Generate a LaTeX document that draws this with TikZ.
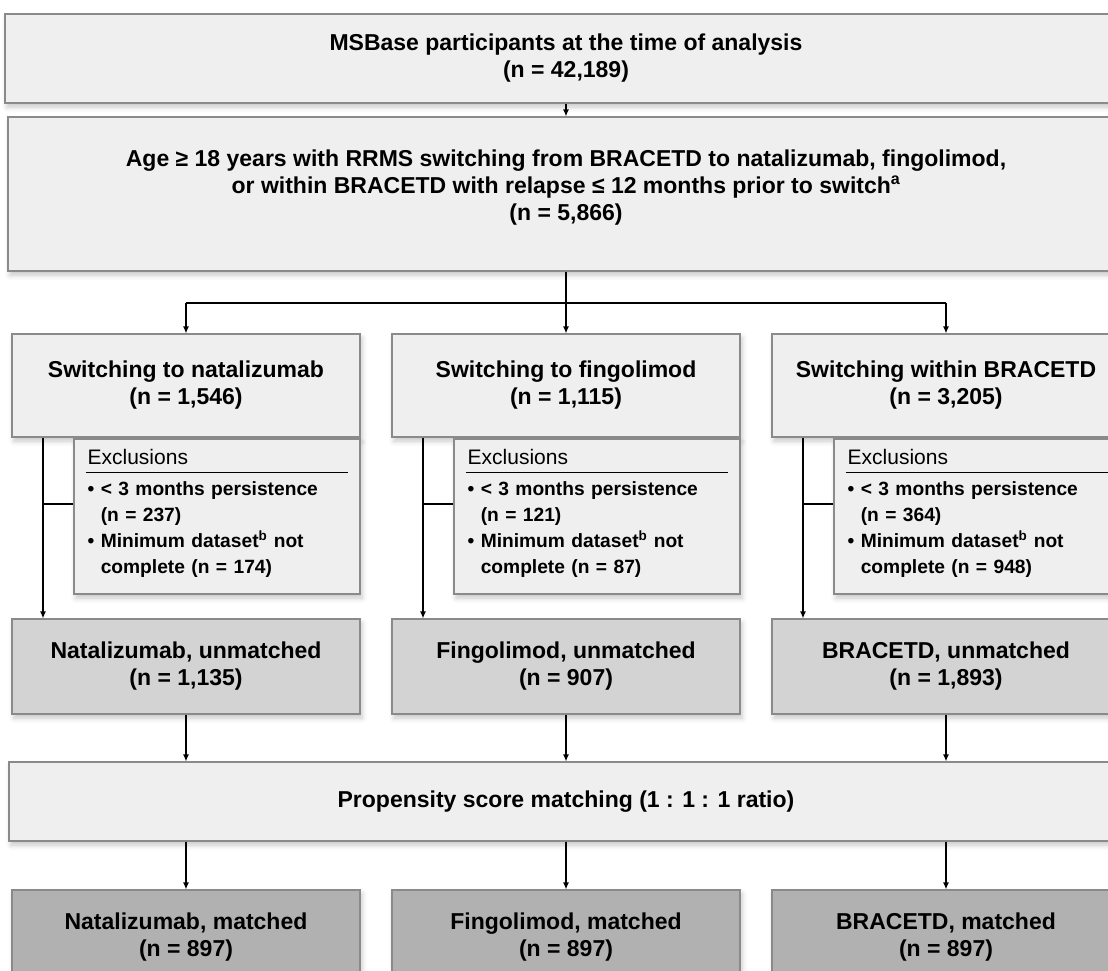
\documentclass[tikz,border=0pt]{standalone}
\usepackage{fontspec}
\setmainfont{Liberation Sans}
\usetikzlibrary{arrows.meta,positioning,calc,shadows.blur}
\definecolor{msframe}{HTML}{8A8A8A}
\definecolor{mslight}{HTML}{EFEFEF}
\definecolor{msmid}{HTML}{D3D3D3}
\definecolor{msdark}{HTML}{B1B1B1}

\tikzset{
    flowbox/.style={draw=msframe, line width=1.1pt, fill=#1, inner sep=0pt, align=center,
        font=\fontsize{23}{27}\selectfont\bfseries,
        blur shadow={shadow xshift=2pt, shadow yshift=-4pt, shadow blur radius=5pt, shadow opacity=22}},
    colbox/.style={flowbox=#1, minimum width=348pt},
    exclbox/.style={flowbox=mslight, minimum width=286pt, minimum height=155pt},
    exclhead/.style={inner sep=0pt, font=\fontsize{21}{26}\selectfont},
    exclitem/.style={inner sep=0pt, align=left, text width=260pt, font=\fontsize{19.2}{26}\selectfont\bfseries},
    link/.style={line width=1.3pt},
    flow/.style={link, -{Latex[length=7pt,width=6pt]}}
}

\begin{document}
\begin{tikzpicture}[x=1pt,y=-1pt]
    \useasboundingbox (0,0) rectangle (1108,971);
    \clip (0,0) rectangle (1108,971);

    % Cohort
    \node[flowbox=mslight, minimum width=1122pt, minimum height=89pt] (msbase) at (566,58.5)
        {MSBase participants at the time of analysis\\(n = 42,189)};
    \node[flowbox=mslight, minimum width=1116pt, minimum height=154pt] (elig) at (566,194)
        {Age ≥ 18 years with RRMS switching from BRACETD to natalizumab, fingolimod,\\
         or within BRACETD with relapse ≤ 12 months prior to switch\textsuperscript{a}\\
         (n = 5,866)\rule[-18pt]{0pt}{18pt}};
    \node[flowbox=mslight, minimum width=1114pt, minimum height=79pt] (psm) at (566,801.5)
        {Propensity score matching (1 : 1 : 1 ratio)};

    \draw[flow] (msbase) -- (elig);
    \coordinate (split) at (566,303);

    % Treatment arms
    \foreach \col/\cx/\swtext/\swn/\pers/\mind/\drug/\unn in {
        Nat/186/{Switching to natalizumab}/{1,546}/237/174/Natalizumab/{1,135},
        Fin/566/{Switching to fingolimod}/{1,115}/121/87/Fingolimod/907,
        Bra/946/{Switching within BRACETD}/{3,205}/364/948/BRACETD/{1,893}%
    } {
        % Switch box
        \node[colbox=mslight, minimum height=103pt] (sw\col) at (\cx,385.5)
            {\swtext\\(n = \swn)\rule[-5pt]{0pt}{5pt}};

        % Exclusions
        \node[exclbox] (ex\col) at (\cx+31,516.5) {};
        \node[exclhead, anchor=base west] (exh\col) at ($(ex\col.north west)+(14,26)$) {Exclusions};
        \draw[link] ($(ex\col.north west)+(13,34)$) -- ($(ex\col.north east)+(-13,34)$);
        \node[exclitem, anchor=north west] (exi\col) at ($(ex\col.north west)+(14,39)$)
            {\strut• < 3 months persistence\\\phantom{•\ }(n = \pers)\\
             • Minimum dataset\textsuperscript{b} not\\\phantom{•\ }complete (n = \mind)};

        % Unmatched and matched
        \node[colbox=msmid, minimum height=95pt] (un\col) at (\cx,666.5) {\drug, unmatched\\(n = \unn)};
        \node[colbox=msdark, minimum height=95pt] (mat\col) at (\cx,937.5) {\drug, matched\\(n = 897)};

        % Connectors
        \coordinate (side\col) at (\cx-143,0);
        \coordinate (br\col) at (\cx-143,504);
        \draw[flow] (sw\col.south -| side\col) -- (un\col.north -| side\col);
        \draw[link] (br\col) -- (br\col -| ex\col.west);
        \draw[flow] (un\col) -- (un\col |- psm.north);
        \draw[flow] (mat\col |- psm.south) -- (mat\col);
    }

    % Split to the three arms
    \draw[flow] (elig) -- (swFin);
    \draw[link] (split -| swNat) -- (split -| swBra);
    \draw[flow] (split -| swNat) -- (swNat);
    \draw[flow] (split -| swBra) -- (swBra);
\end{tikzpicture}
\end{document}
